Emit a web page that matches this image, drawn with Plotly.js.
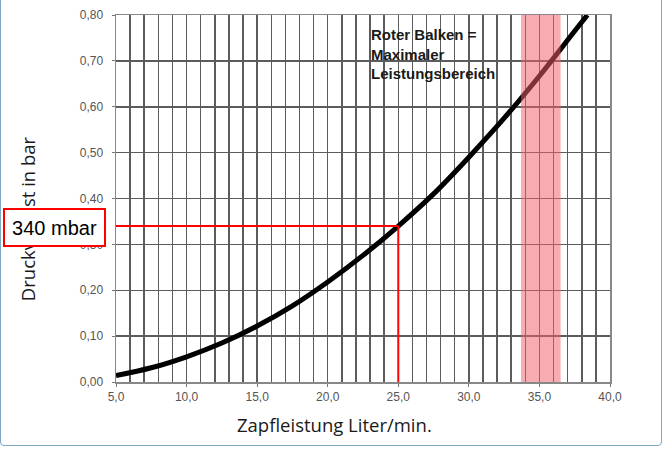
<!DOCTYPE html>
<html>
<head>
<meta charset="utf-8">
<script src="https://cdn.plot.ly/plotly-3.0.1.min.js"></script>
<style>
html,body{margin:0;padding:0;background:#fff;}
#wrap{position:relative;width:667px;height:451px;overflow:hidden;}
#chart{width:667px;height:451px;}
#frame{position:absolute;left:0;top:-4px;width:662px;height:450px;border:1.5px solid #7fa8c4;border-radius:0 0 4px 4px;pointer-events:none;box-sizing:border-box;}
</style>
</head>
<body>
<div id="wrap"><div id="chart"></div><div id="frame"></div></div>
<script>
// Flow rate (Liter/min) and pressure loss (bar)
const flow = [5.0, 7.5, 10.0, 12.5, 15.0, 17.5, 20.0, 22.5, 25.0, 27.5, 30.0, 32.5, 35.0, 37.5, 38.4];
const loss = [0.014, 0.031, 0.055, 0.085, 0.122, 0.166, 0.218, 0.276, 0.340, 0.410, 0.490, 0.575, 0.667, 0.765, 0.800];
// Marked reading point
const readFlow = 25.0;
const readLoss = 0.34;
const readLabel = "340 mbar";
// Red band = maximum performance range
const bandRange = [33.7, 36.5];
const bandText = "Roter Balken =<br>Maximaler<br>Leistungsbereich";
const xTitle = "Zapfleistung Liter/min.";
const yTitle = "Druckverlust in bar";
const xRange = [5, 40];
const yRange = [0, 0.8];

const tickFont = {family: "Liberation Sans, Arial, sans-serif", size: 12, color: "#555"};
const gridCol = "#5c5c5c";

const trace = {
  x: flow, y: loss, type: "scatter", mode: "lines",
  line: {color: "#000", width: 5, shape: "spline", smoothing: 1.0},
  hoverinfo: "skip", cliponaxis: true
};

const layout = {
  width: 667, height: 451,
  margin: {l: 116, r: 57, t: 15, b: 69},
  paper_bgcolor: "#fff", plot_bgcolor: "#fff",
  separators: ",.",
  showlegend: false,
  xaxis: {
    range: xRange, dtick: 5, tick0: 5, tickformat: ".1f",
    showgrid: true, gridcolor: gridCol, gridwidth: 1.5,
    minor: {dtick: 1, showgrid: true, gridcolor: gridCol, gridwidth: 1.5},
    ticks: "outside", ticklen: 3, tickcolor: "#777",
    showline: true, linecolor: "#888", linewidth: 1.5, mirror: true,
    zeroline: false, tickfont: tickFont, fixedrange: true
  },
  yaxis: {
    range: yRange, dtick: 0.1, tick0: 0, tickformat: ".2f",
    showgrid: true, gridcolor: gridCol, gridwidth: 1.5,
    ticks: "outside", ticklen: 3, tickcolor: "#777", ticklabelstandoff: 6,
    showline: true, linecolor: "#888", linewidth: 1.5, mirror: true,
    zeroline: false, tickfont: tickFont, fixedrange: true
  },
  shapes: [
    {type: "rect", xref: "x", yref: "y", x0: bandRange[0], x1: bandRange[1], y0: yRange[0], y1: yRange[1],
     fillcolor: "rgba(240,95,105,0.52)", line: {width: 0}, layer: "above"},
    {type: "line", xref: "x", yref: "y", x0: xRange[0], x1: readFlow, y0: readLoss, y1: readLoss,
     line: {color: "#ff0000", width: 2}, layer: "above"},
    {type: "line", xref: "x", yref: "y", x0: readFlow, x1: readFlow, y0: yRange[0], y1: readLoss,
     line: {color: "#ff0000", width: 2}, layer: "above"}
  ],
  annotations: [
    {text: xTitle, xref: "paper", yref: "paper", x: 0.443, y: -0.117, xanchor: "center", yanchor: "middle",
     showarrow: false, font: {family: "Open Sans, sans-serif", size: 18.5, color: "#1a1a1a"}},
    {text: yTitle, xref: "paper", yref: "paper", x: -0.18, y: 0.444, xanchor: "center", yanchor: "middle",
     textangle: -90, showarrow: false, font: {family: "Open Sans, sans-serif", size: 18.5, color: "#1a1a1a"}},
    {text: bandText, xref: "x", yref: "y", x: 22.9, y: 0.78, xanchor: "left", yanchor: "top", align: "left",
     showarrow: false, font: {family: "Liberation Sans, Arial, sans-serif", size: 15, color: "#1a1a1a", weight: "bold"}},
    {text: readLabel, xref: "paper", yref: "y", x: -0.125, y: readLoss - 0.004, xanchor: "center", yanchor: "middle",
     showarrow: false, bgcolor: "#fff", bordercolor: "#ff0000", borderwidth: 2, borderpad: 2,
     width: 95, height: 31,
     font: {family: "Liberation Sans, Arial, sans-serif", size: 20, color: "#000"}}
  ]
};

Plotly.newPlot("chart", [trace], layout, {displayModeBar: false, staticPlot: true});
</script>
</body>
</html>
